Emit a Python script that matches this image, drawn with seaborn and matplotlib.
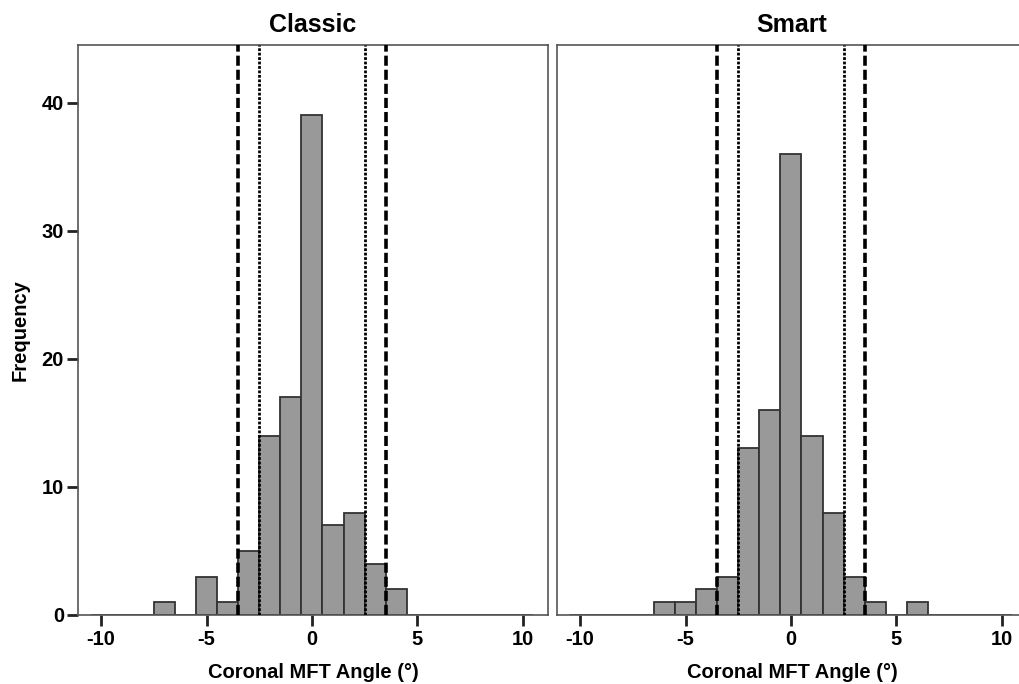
import numpy as np
import pandas as pd
import matplotlib
matplotlib.use("Agg")
import matplotlib.pyplot as plt
import seaborn as sns

# Data: bin centres (degrees) and counts per panel
classic_angles = [-7, -5, -4, -3, -2, -1, 0, 1, 2, 3, 4]
classic_counts = [1, 3, 1, 5, 14, 17, 39, 7, 8, 4, 2]
smart_angles = [-6, -5, -4, -3, -2, -1, 0, 1, 2, 3, 4, 6]
smart_counts = [1, 1, 2, 3, 13, 16, 36, 14, 8, 3, 1, 1]
panel_titles = ["Classic", "Smart"]
dashed_limits = [-3.5, 3.5]
dotted_limits = [-2.5, 2.5]
x_ticks = [-10, -5, 0, 5, 10]
y_ticks = [0, 10, 20, 30, 40]

sns.set_theme(style="ticks")
plt.rcParams['font.family'] = ['Liberation Sans', 'DejaVu Sans']
plt.rcParams['font.weight'] = 'bold'
plt.rcParams['text.color'] = 'black'
plt.rcParams['axes.labelcolor'] = 'black'

fig = plt.figure(figsize=(10.19, 6.84), dpi=100)
W, H = 1019, 684
ax1 = fig.add_axes([78 / W, (H - 615) / H, 470 / W, 570 / H])
ax2 = fig.add_axes([557 / W, (H - 615) / H, 470 / W, 570 / H])

data = [(classic_angles, classic_counts), (smart_angles, smart_counts)]

for i, (ax, (ang, cnt), title) in enumerate(zip([ax1, ax2], data, panel_titles)):
    df = pd.DataFrame({"angle": ang, "count": cnt})
    sns.histplot(data=df, x="angle", weights="count", bins=21, binrange=(-10.5, 10.5), ax=ax,
                 color="#999999", alpha=1.0, edgecolor="#333333", linewidth=1.3)
    for v in dashed_limits:
        ax.axvline(v, color="black", linestyle=(0, (2.8, 1.1)), linewidth=2.6, zorder=5)
    for v in dotted_limits:
        ax.axvline(v, color="black", linestyle=(0, (1, 0.6)), linewidth=2.0, zorder=5)
    ax.set_xlim(-11.1, 11.2)
    ax.set_ylim(0, 44.5)
    ax.set_xticks(x_ticks)
    ax.set_xticklabels([str(t) for t in x_ticks], fontsize=14.5, fontweight='bold', color='black')
    ax.set_title(title, fontsize=18, fontweight='bold', pad=9, color='black')
    ax.set_xlabel("Coronal MFT Angle (°)", fontsize=14.5, fontweight='bold', labelpad=10)
    for s in ax.spines.values():
        s.set_visible(True)
        s.set_color("#555555")
        s.set_linewidth(1.2)
    ax.tick_params(axis='x', which='major', bottom=True, top=False, direction='out',
                   length=8, width=2.0, pad=3, color='#222222')
    if i == 0:
        ax.set_yticks(y_ticks)
        ax.set_yticklabels([str(t) for t in y_ticks], fontsize=14.5, fontweight='bold', color='black')
        ax.tick_params(axis='y', which='major', left=True, right=False, direction='out',
                       length=8, width=2.0, pad=2, color='#222222')
        ax.set_ylabel("Frequency", fontsize=14.5, fontweight='bold', labelpad=9)
    else:
        ax.set_yticks([])
        ax.set_ylabel("")

fig.savefig("out.png", dpi=100)
